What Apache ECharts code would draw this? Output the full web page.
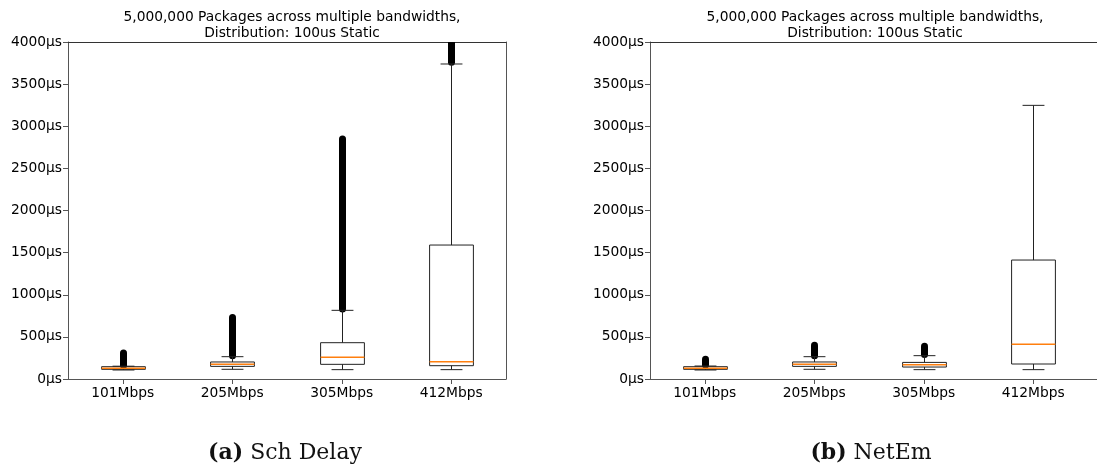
<!DOCTYPE html>
<html>
<head>
<meta charset="utf-8">
<script src="https://cdn.jsdelivr.net/npm/echarts@6/dist/echarts.min.js"></script>
<style>
html,body{margin:0;padding:0;background:#fff;}
#chart{width:1097px;height:469px;}
</style>
</head>
<body>
<div id="chart"></div>
<script>
// ---- data (µs) ----
const categories = ['101Mbps', '205Mbps', '305Mbps', '412Mbps'];
const yTicksMax = 4000;

// Sch Delay
const schWhiskerLow  = [107, 115, 111, 111];
const schQ1          = [115, 150, 174, 158];
const schMedian      = [127, 174, 257, 206];
const schQ3          = [146, 202, 431, 1590];
const schWhiskerHigh = [152, 265, 815, 3739];
const schOutlierMin  = [160, 275, 830, 3760];
const schOutlierMax  = [310, 730, 2850, 4200];

// NetEm
const netWhiskerLow  = [107, 115, 111, 111];
const netQ1          = [115, 150, 142, 178];
const netMedian      = [127, 174, 170, 411];
const netQ3          = [146, 202, 197, 1412];
const netWhiskerHigh = [154, 265, 277, 3248];
const netOutlierMin  = [165, 275, 290, null];
const netOutlierMax  = [235, 401, 389, null];

const titleText = '5,000,000 Packages across multiple bandwidths,\nDistribution: 100us Static';

function rows(lo, q1, med, q3, hi, omin, omax) {
  return categories.map((c, i) => [i, lo[i], q1[i], med[i], q3[i], hi[i],
    omin[i] == null ? '-' : omin[i], omax[i] == null ? '-' : omax[i]]);
}

function renderBox(params, api) {
  const x = api.value(0);
  const band = api.size([1, 0])[0];
  const hw = band * 0.2, cw = band * 0.1;
  const p = k => api.coord([x, api.value(k)]);
  const lo = p(1), q1 = p(2), md = p(3), q3 = p(4), hi = p(5);
  const cx = Math.round(lo[0]) + 0.5;
  const children = [];
  const omin = api.value(6), omax = api.value(7);
  if (!isNaN(omin) && !isNaN(omax)) {
    const a = api.coord([x, omin]), b = api.coord([x, omax]);
    children.push({type: 'line', shape: {x1: cx, y1: a[1], x2: cx, y2: b[1]},
      style: {stroke: '#000', lineWidth: 7, lineCap: 'round'}});
  }
  const st = {stroke: '#222', lineWidth: 1, fill: null};
  children.push({type: 'line', shape: {x1: cx, y1: lo[1], x2: cx, y2: q1[1]}, style: st});
  children.push({type: 'line', shape: {x1: cx, y1: q3[1], x2: cx, y2: hi[1]}, style: st});
  children.push({type: 'line', shape: {x1: cx - cw, y1: lo[1], x2: cx + cw, y2: lo[1]}, style: st});
  children.push({type: 'line', shape: {x1: cx - cw, y1: hi[1], x2: cx + cw, y2: hi[1]}, style: st});
  children.push({type: 'rect', shape: {x: cx - hw, y: q3[1], width: 2 * hw, height: q1[1] - q3[1]},
    style: {stroke: '#222', lineWidth: 1, fill: 'rgba(0,0,0,0)'}});
  children.push({type: 'line', shape: {x1: cx - hw, y1: md[1], x2: cx + hw, y2: md[1]},
    style: {stroke: '#ff7f0e', lineWidth: 1.5}});
  return {type: 'group', children};
}

const axisCol = '#555';
const labelFont = {fontFamily: 'DejaVu Sans', fontSize: 13.8, color: '#000'};

function xAxisBottom(gi, showLine) {
  return {type: 'category', gridIndex: gi, data: categories, boundaryGap: true,
    axisLine: {show: showLine, onZero: false, lineStyle: {color: axisCol, width: 1}},
    axisTick: {show: true, alignWithLabel: true, length: 5, lineStyle: {color: axisCol}},
    axisLabel: Object.assign({margin: 7}, labelFont), splitLine: {show: false}};
}
function xAxisLineOnly(gi, pos) {
  return {type: 'category', gridIndex: gi, position: pos, data: categories,
    axisLine: {show: true, onZero: false, lineStyle: {color: pos === 'top' ? '#333' : axisCol, width: 1}},
    axisTick: {show: false}, axisLabel: {show: false}, splitLine: {show: false}};
}
function yAxisLeft(gi) {
  return {type: 'value', gridIndex: gi, min: 0, max: yTicksMax, interval: 500,
    axisLine: {show: true, onZero: false, lineStyle: {color: axisCol, width: 1}},
    axisTick: {show: true, length: 5, lineStyle: {color: axisCol}},
    axisLabel: Object.assign({margin: 6, formatter: v => v + 'µs'}, labelFont),
    splitLine: {show: false}};
}
function yAxisHidden(gi, pos, showLine) {
  return {type: 'value', gridIndex: gi, position: pos, min: 0, max: yTicksMax,
    axisLine: {show: showLine, onZero: false, lineStyle: {color: axisCol, width: 1}},
    axisTick: {show: false}, axisLabel: {show: false}, splitLine: {show: false}};
}

const titleStyle = {fontFamily: 'DejaVu Sans', fontSize: 13.8, fontWeight: 'normal', color: '#000', lineHeight: 16};
const capStyle = {fontFamily: 'DejaVu Serif', fontSize: 22, fontWeight: 'normal', color: '#111',
  rich: {b: {fontFamily: 'DejaVu Serif', fontSize: 22, fontWeight: 'bold', color: '#111'}}};

const chart = echarts.init(document.getElementById('chart'), null, {renderer: 'canvas'});
chart.setOption({
  backgroundColor: '#fff',
  animation: false,
  title: [
    {text: titleText, left: 287, top: 4, textAlign: 'center', textStyle: titleStyle},
    {text: titleText, left: 870, top: 4, textAlign: 'center', textStyle: titleStyle},
    {text: '{b|(a)} Sch Delay', left: 280, top: 437, textAlign: 'center', textStyle: capStyle},
    {text: '{b|(b)} NetEm', left: 866, top: 437, textAlign: 'center', textStyle: capStyle}
  ],
  grid: [
    {left: 68, top: 42, width: 438, height: 337},
    {left: 650, top: 42, width: 438, height: 337},
    {left: 650, top: 42, width: 450, height: 337}
  ],
  xAxis: [xAxisBottom(0, true), xAxisLineOnly(0, 'top'), xAxisBottom(1, false),
          xAxisLineOnly(2, 'top'), xAxisLineOnly(2, 'bottom')],
  yAxis: [yAxisLeft(0), yAxisHidden(0, 'right', true), yAxisLeft(1), yAxisHidden(2, 'left', false)],
  series: [
    {type: 'custom', xAxisIndex: 0, yAxisIndex: 0, clip: true, renderItem: renderBox,
      encode: {x: 0, y: [1, 2, 3, 4, 5, 6, 7]},
      data: rows(schWhiskerLow, schQ1, schMedian, schQ3, schWhiskerHigh, schOutlierMin, schOutlierMax)},
    {type: 'custom', xAxisIndex: 2, yAxisIndex: 2, clip: true, renderItem: renderBox,
      encode: {x: 0, y: [1, 2, 3, 4, 5, 6, 7]},
      data: rows(netWhiskerLow, netQ1, netMedian, netQ3, netWhiskerHigh, netOutlierMin, netOutlierMax)}
  ]
});
</script>
</body>
</html>
